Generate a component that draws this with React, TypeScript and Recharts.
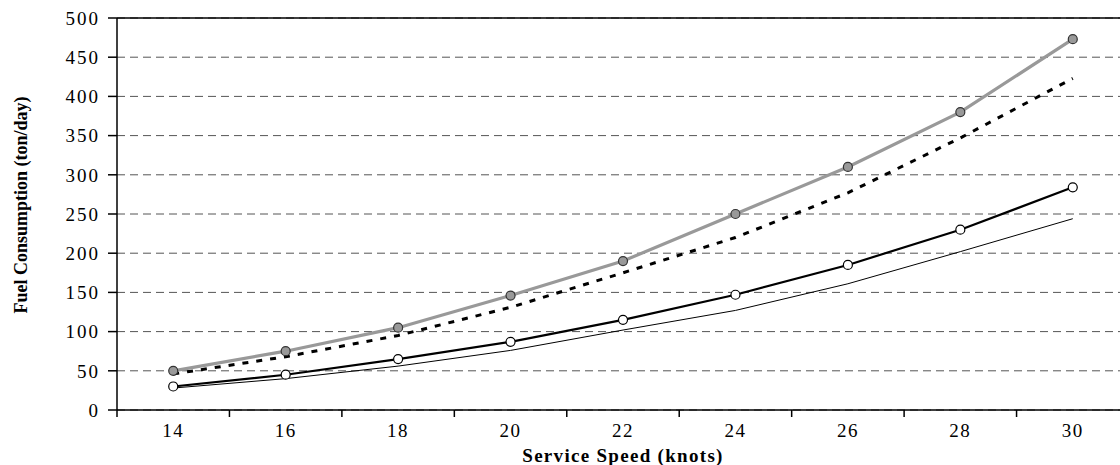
import React from 'react';
import {
  LineChart,
  Line,
  XAxis,
  YAxis,
  CartesianGrid,
  ReferenceLine,
  Label
} from 'recharts';

const speeds = [14, 16, 18, 20, 22, 24, 26, 28, 30];
const upperCircles = [50, 75, 105, 146, 190, 250, 310, 380, 473];
const upperDashed = [46, 68, 95, 131, 175, 220, 277, 347, 423];
const lowerCircles = [30, 45, 65, 87, 115, 147, 185, 230, 284];
const lowerThin = [28, 40, 56, 76, 102, 127, 161, 202, 244];

const xTicks = [13, 14, 15, 16, 17, 18, 19, 20, 21, 22, 23, 24, 25, 26, 27, 28, 29, 30, 31];
const yTicks = [0, 50, 100, 150, 200, 250, 300, 350, 400, 450, 500];

const data = speeds.map((s, i) => ({
  speed: s,
  upperCircles: upperCircles[i],
  upperDashed: upperDashed[i],
  lowerCircles: lowerCircles[i],
  lowerThin: lowerThin[i]
}));

const font = '"Liberation Serif", "Times New Roman", serif';

// even speeds get a label, odd ones a small boundary tick mark
const XTick = (props: any) => {
  const { x, y, payload } = props;
  const v = payload.value;
  if (v % 2 === 1) {
    return <line x1={x} x2={x} y1={y} y2={y + 7} stroke="#000" strokeWidth={1.5} />;
  }
  return (
    <text x={x} y={y + 27} textAnchor="middle" fontFamily={font} fontSize={19} letterSpacing={1.5} fill="#000">
      {v}
    </text>
  );
};

const App: React.FC = () => {
  return (
    <div style={{ width: 1120, height: 465, overflow: 'hidden', background: '#fff' }}>
      <style>{'body { margin: 0; }'}</style>
      <LineChart
        width={1130}
        height={465}
        data={data}
        margin={{ top: 18, right: 1, bottom: 0, left: 0 }}
      >
        <CartesianGrid vertical={false} stroke="#555" strokeDasharray="8 5" />
        <XAxis
          dataKey="speed"
          type="number"
          domain={[13, 31]}
          ticks={xTicks}
          interval={0}
          height={55}
          tickLine={false}
          tickSize={0}
          tickMargin={0}
          tick={<XTick />}
          axisLine={{ stroke: '#000', strokeWidth: 1.5 }}
        >
          <Label
            content={(p: any) => {
              const vb = p.viewBox;
              return (
                <text
                  x={vb.x + vb.width / 2}
                  y={vb.y + 52}
                  textAnchor="middle"
                  fontFamily={font}
                  fontWeight="bold"
                  fontSize={19}
                  letterSpacing={1.3}
                  fill="#000"
                >
                  Service Speed (knots)
                </text>
              );
            }}
          />
        </XAxis>
        <YAxis
          type="number"
          domain={[0, 500]}
          ticks={yTicks}
          interval={0}
          width={117}
          tickSize={9}
          tickMargin={8}
          tickLine={{ stroke: '#000', strokeWidth: 1.5 }}
          axisLine={{ stroke: '#000', strokeWidth: 1.5 }}
          tick={{ fill: '#000', fontFamily: font, fontSize: 19, letterSpacing: 2 }}
        >
          <Label
            content={(p: any) => {
              const vb = p.viewBox;
              const cx = 27;
              const cy = vb.y + vb.height / 2 - 9;
              return (
                <text
                  x={cx}
                  y={cy}
                  transform={`rotate(-90, ${cx}, ${cy})`}
                  textAnchor="middle"
                  fontFamily={font}
                  fontWeight="bold"
                  fontSize={18}
                  fill="#000"
                >
                  Fuel Consumption (ton/day)
                </text>
              );
            }}
          />
        </YAxis>
        <ReferenceLine y={500} stroke="#000" strokeWidth={1.5} />
        <Line
          type="linear"
          dataKey="lowerThin"
          stroke="#000"
          strokeWidth={1}
          dot={false}
          isAnimationActive={false}
        />
        <Line
          type="linear"
          dataKey="lowerCircles"
          stroke="#000"
          strokeWidth={2.2}
          dot={{ r: 4.5, fill: '#fff', stroke: '#000', strokeWidth: 1.2 }}
          isAnimationActive={false}
        />
        <Line
          type="linear"
          dataKey="upperDashed"
          stroke="#000"
          strokeWidth={3}
          strokeDasharray="6 8"
          dot={false}
          isAnimationActive={false}
        />
        <Line
          type="linear"
          dataKey="upperCircles"
          stroke="#999"
          strokeWidth={3.2}
          dot={{ r: 4.5, fill: '#999', stroke: '#333', strokeWidth: 1.2 }}
          isAnimationActive={false}
        />
      </LineChart>
    </div>
  );
};

export default App;
